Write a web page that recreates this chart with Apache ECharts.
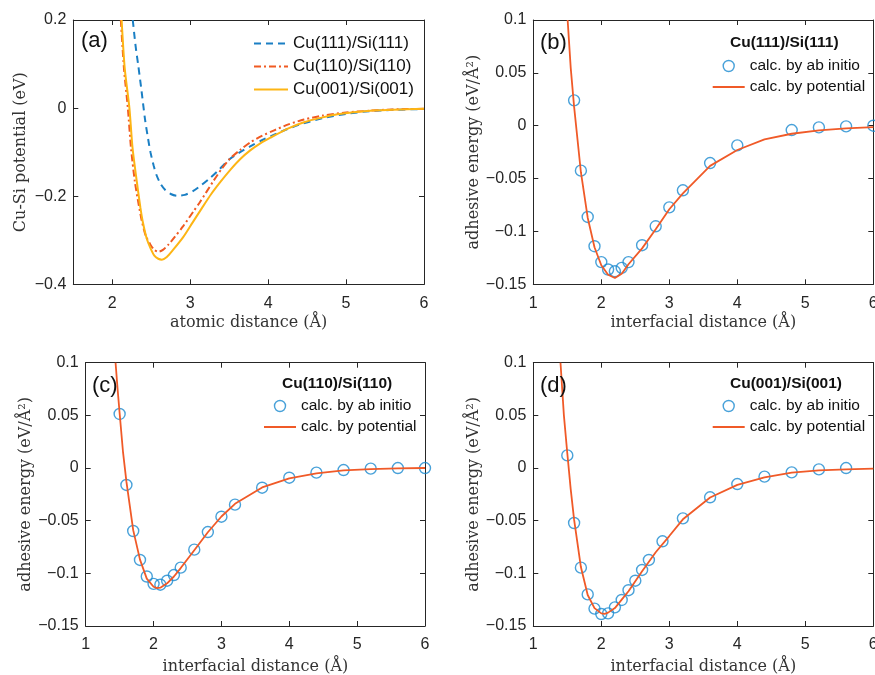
<!DOCTYPE html>
<html>
<head>
<meta charset="utf-8">
<script src="https://cdn.jsdelivr.net/npm/echarts@6/dist/echarts.min.js"></script>
<style>
html,body{margin:0;padding:0;background:#fff;}
#chart{width:875px;height:675px;}
</style>
</head>
<body>
<div id="chart"></div>
<script>
// ---------- Panel (a): Cu-Si potential ----------
const aBlueX = [2.263,2.30,2.335,2.375,2.42,2.46,2.49,2.53,2.57,2.62,2.68,2.75,2.83,2.93,3.04,3.15,3.26,3.38,3.49,3.63,3.77,3.92,4.07,4.24,4.45,4.7,5.0,5.3,5.6,6.0];
const aBlueY = [0.2,0.14,0.095,0.04,-0.025,-0.07,-0.1,-0.13,-0.153,-0.172,-0.186,-0.195,-0.199,-0.197,-0.188,-0.174,-0.158,-0.138,-0.118,-0.101,-0.087,-0.073,-0.061,-0.048,-0.035,-0.023,-0.013,-0.007,-0.004,-0.002];
const aRedX = [2.11,2.15,2.20,2.24,2.29,2.34,2.38,2.43,2.49,2.54,2.59,2.65,2.72,2.80,2.91,3.04,3.13,3.30,3.40,3.51,3.64,3.77,3.92,4.07,4.26,4.46,4.7,5.0,5.3,5.6,6.0];
const aRedY = [0.2,0.09,0.0,-0.09,-0.167,-0.22,-0.257,-0.29,-0.31,-0.322,-0.326,-0.322,-0.31,-0.293,-0.268,-0.235,-0.212,-0.165,-0.139,-0.115,-0.095,-0.078,-0.063,-0.051,-0.037,-0.026,-0.017,-0.010,-0.006,-0.003,-0.0015];
const aOrX = [2.12,2.16,2.22,2.26,2.315,2.36,2.39,2.44,2.49,2.54,2.59,2.636,2.70,2.78,2.91,3.03,3.15,3.27,3.39,3.52,3.64,3.77,3.90,4.03,4.26,4.46,4.70,4.89,5.31,5.6,6.0];
const aOrY = [0.2,0.09,0.0,-0.09,-0.167,-0.225,-0.257,-0.295,-0.318,-0.335,-0.342,-0.344,-0.338,-0.322,-0.293,-0.26,-0.227,-0.195,-0.167,-0.139,-0.116,-0.096,-0.080,-0.067,-0.046,-0.032,-0.021,-0.014,-0.006,-0.004,-0.0016];
const aNames = ['Cu(111)/Si(111)','Cu(110)/Si(110)','Cu(001)/Si(001)'];
const aXTicks = [2,3,4,5,6];
const aYTicks = [-0.4,-0.2,0,0.2];

// ---------- Panel (b): Cu(111)/Si(111) ----------
const bX = [1.6,1.7,1.8,1.9,2.0,2.1,2.2,2.3,2.4,2.6,2.8,3.0,3.2,3.6,4.0,4.8,5.2,5.6,6.0];
const bAb = [0.024,-0.0425,-0.0863,-0.114,-0.129,-0.136,-0.1377,-0.1345,-0.129,-0.113,-0.0951,-0.0772,-0.0611,-0.0353,-0.0186,-0.0041,-0.0016,-0.0006,0.0];
const bLineX = [1.505,1.55,1.6,1.7,1.8,1.9,2.0,2.1,2.2,2.3,2.4,2.6,2.8,3.0,3.2,3.6,4.0,4.4,4.8,5.2,5.6,6.0];
const bLineY = [0.1,0.055,0.018,-0.044,-0.087,-0.115,-0.132,-0.141,-0.144,-0.140,-0.131,-0.116,-0.098,-0.079,-0.064,-0.038,-0.023,-0.013,-0.0076,-0.0044,-0.0025,-0.0013];

// ---------- Panel (c): Cu(110)/Si(110) ----------
const cX = [1.5,1.6,1.7,1.8,1.9,2.0,2.1,2.2,2.3,2.4,2.6,2.8,3.0,3.2,3.6,4.0,4.4,4.8,5.2,5.6,6.0];
const cAb = [0.0513,-0.0161,-0.0598,-0.0873,-0.103,-0.110,-0.1108,-0.107,-0.1016,-0.0946,-0.0775,-0.0608,-0.0462,-0.0348,-0.0187,-0.0092,-0.0044,-0.0019,-0.0006,0.0,0.0];
const cLineX = [1.44,1.47,1.5,1.55,1.6,1.7,1.8,1.9,2.0,2.05,2.1,2.2,2.3,2.4,2.6,2.8,3.0,3.2,3.6,4.0,4.4,4.8,5.2,5.6,6.0];
const cLineY = [0.1,0.075,0.052,0.015,-0.013,-0.059,-0.087,-0.105,-0.1127,-0.114,-0.1136,-0.1095,-0.103,-0.095,-0.078,-0.061,-0.046,-0.034,-0.0184,-0.0098,-0.005,-0.0022,-0.001,-0.0004,0.0];

// ---------- Panel (d): Cu(001)/Si(001) ----------
const dX = [1.5,1.6,1.7,1.8,1.9,2.0,2.1,2.2,2.3,2.4,2.5,2.6,2.7,2.9,3.2,3.6,4.0,4.4,4.8,5.2,5.6];
const dAb = [0.012,-0.0522,-0.0946,-0.120,-0.1335,-0.1386,-0.138,-0.1323,-0.1253,-0.116,-0.107,-0.0968,-0.0873,-0.0696,-0.0478,-0.0278,-0.0152,-0.0082,-0.0041,-0.0013,0.0];
const dLineX = [1.40,1.45,1.5,1.55,1.6,1.7,1.8,1.9,2.0,2.05,2.1,2.2,2.3,2.4,2.6,2.8,3.0,3.2,3.6,4.0,4.4,4.8,5.2,5.6,6.0];
const dLineY = [0.1,0.05,0.014,-0.02,-0.049,-0.094,-0.1206,-0.133,-0.138,-0.1385,-0.1373,-0.133,-0.125,-0.117,-0.098,-0.080,-0.0646,-0.0487,-0.028,-0.016,-0.0089,-0.0044,-0.0022,-0.0013,-0.0006];

const bcdXTicks = [1,2,3,4,5,6];
const bcdYTicks = [-0.15,-0.1,-0.05,0,0.05,0.1];
const panelLabels = ['(a)','(b)','(c)','(d)'];
const bcdHeaders = ['Cu(111)/Si(111)','Cu(110)/Si(110)','Cu(001)/Si(001)'];
const abName = 'calc. by ab initio';
const potName = 'calc. by potential';

// ---------- styling / layout ----------
const AX = '#262626';
const SANS = 'Liberation Sans, Arial, Helvetica, sans-serif';
const SERIF = 'DejaVu Serif, serif';
const BLUE = '#1a7fc4', RED = '#f05a22', YEL = '#fdb515', LINE = '#f05a28', CIRC = '#1a8ad0';
const grids = [
  {left:73.3, top:20, width:350.7, height:264.3},
  {left:533.3, top:20, width:340, height:264.3},
  {left:85.7, top:362.7, width:339.3, height:263.3},
  {left:533.3, top:362.7, width:340, height:263.3}
];
const xRange = [[1.5,6],[1,6],[1,6],[1,6]];
const yRange = [[-0.4,0.2],[-0.15,0.1],[-0.15,0.1],[-0.15,0.1]];
const xTickSets = [aXTicks,bcdXTicks,bcdXTicks,bcdXTicks];
const yTickSets = [aYTicks,bcdYTicks,bcdYTicks,bcdYTicks];
const xNames = ['atomic distance (Å)','interfacial distance (Å)','interfacial distance (Å)','interfacial distance (Å)'];
const yNames = ['Cu-Si potential (eV)','adhesive energy (eV/Å²)','adhesive energy (eV/Å²)','adhesive energy (eV/Å²)'];
const yNameGaps = [44,48,48,48];
const xNameGaps = [31,31,33,33];
const fmt = v => String(v).replace('-', '\u2212');

const xAxis = [], yAxis = [];
for (let g = 0; g < 4; g++) {
  const common = {type:'value', gridIndex:g, splitLine:{show:false},
    axisLine:{show:true, onZero:false, lineStyle:{color:AX, width:1}},
    axisTick:{show:true, inside:true, length:5, lineStyle:{color:AX, width:1}}};
  xAxis.push(Object.assign({}, common, {
    min:xRange[g][0], max:xRange[g][1], position:'bottom',
    axisTick:Object.assign({}, common.axisTick, {customValues:xTickSets[g]}),
    axisLabel:{show:true, customValues:xTickSets[g], formatter:fmt, margin:11, color:AX, fontSize:16, fontFamily:SANS},
    name:xNames[g], nameLocation:'middle', nameGap:xNameGaps[g],
    nameTextStyle:{fontFamily:SERIF, fontSize:16, color:'#333'}
  }));
  xAxis.push(Object.assign({}, common, {
    min:xRange[g][0], max:xRange[g][1], position:'top',
    axisTick:Object.assign({}, common.axisTick, {customValues:xTickSets[g]}),
    axisLabel:{show:false}
  }));
  yAxis.push(Object.assign({}, common, {
    min:yRange[g][0], max:yRange[g][1], position:'left',
    axisTick:Object.assign({}, common.axisTick, {customValues:yTickSets[g]}),
    axisLabel:{show:true, customValues:yTickSets[g], formatter:fmt, margin:7, color:AX, fontSize:16, fontFamily:SANS},
    name:yNames[g], nameLocation:'middle', nameGap:yNameGaps[g],
    nameTextStyle:{fontFamily:SERIF, fontSize:16, color:'#333'}
  }));
  yAxis.push(Object.assign({}, common, {
    min:yRange[g][0], max:yRange[g][1], position:'right',
    axisTick:Object.assign({}, common.axisTick, {customValues:yTickSets[g]}),
    axisLabel:{show:false}
  }));
}

const pairs = (xs, ys) => xs.map((x, i) => [x, ys[i]]);
const series = [
  {name:aNames[0], type:'line', xAxisIndex:0, yAxisIndex:0, data:pairs(aBlueX,aBlueY), showSymbol:false, symbol:'none', smooth:0.25,
   lineStyle:{color:BLUE, width:2, type:[7,5]}, itemStyle:{color:BLUE}},
  {name:aNames[1], type:'line', xAxisIndex:0, yAxisIndex:0, data:pairs(aRedX,aRedY), showSymbol:false, symbol:'none', smooth:0.25,
   lineStyle:{color:RED, width:2, type:[7,3,2,3]}, itemStyle:{color:RED}},
  {name:aNames[2], type:'line', xAxisIndex:0, yAxisIndex:0, data:pairs(aOrX,aOrY), showSymbol:false, symbol:'none', smooth:0.25,
   lineStyle:{color:YEL, width:2}, itemStyle:{color:YEL}}
];
const abSets = [[bX,bAb],[cX,cAb],[dX,dAb]];
const lnSets = [[bLineX,bLineY],[cLineX,cLineY],[dLineX,dLineY]];
for (let k = 0; k < 3; k++) {
  const g = k + 1;
  series.push({name:abName, type:'scatter', xAxisIndex:2*g, yAxisIndex:2*g, data:pairs(abSets[k][0],abSets[k][1]),
    symbol:'circle', symbolSize:11, itemStyle:{color:'rgba(255,255,255,0)', borderColor:CIRC, borderWidth:1.4}, z:2});
  series.push({name:potName, type:'line', xAxisIndex:2*g, yAxisIndex:2*g, data:pairs(lnSets[k][0],lnSets[k][1]),
    showSymbol:false, symbol:'none', lineStyle:{color:LINE, width:1.8}, itemStyle:{color:LINE}, z:3});
}

const titles = [
  {text:panelLabels[0], left:81, top:30},
  {text:panelLabels[1], left:540, top:32},
  {text:panelLabels[2], left:92, top:375},
  {text:panelLabels[3], left:540, top:375}
].map(t => Object.assign(t, {padding:0, textStyle:{fontFamily:SANS, fontSize:22, fontWeight:'normal', color:'#111'}}));
const hdrPos = [[730,35],[282,376],[730,376]];
for (let k = 0; k < 3; k++) {
  titles.push({text:bcdHeaders[k], left:hdrPos[k][0], top:hdrPos[k][1], padding:0,
    textStyle:{fontFamily:SANS, fontSize:15.5, fontWeight:'bold', color:'#111'}});
}

const hideSym = {opacity:0};
const legends = [{
  data:aNames.map(n => ({name:n, itemStyle:hideSym})), left:253, top:35, orient:'vertical', padding:0,
  itemWidth:34, itemHeight:14, itemGap:6, selectedMode:false,
  textStyle:{fontFamily:SANS, fontSize:17, color:'#111'}
}];
const legPos = [[711.7,58],[263,398],[711.7,398]];
for (let k = 0; k < 3; k++) {
  legends.push({
    data:[{name:abName, icon:'circle', itemStyle:{color:'rgba(255,255,255,0)', borderColor:CIRC, borderWidth:1.4}},
          {name:potName, itemStyle:hideSym}],
    left:legPos[k][0], top:legPos[k][1], orient:'vertical', padding:0, itemWidth:32, itemHeight:11, itemGap:5,
    selectedMode:false, textStyle:{fontFamily:SANS, fontSize:15.5, color:'#111'}
  });
}

const chart = echarts.init(document.getElementById('chart'), null, {renderer:'canvas'});
chart.setOption({
  animation:false,
  backgroundColor:'#fff',
  title:titles,
  legend:legends,
  grid:grids.map(g => Object.assign({}, g, {containLabel:false, outerBoundsMode:'none'})),
  xAxis, yAxis, series
});
</script>
</body>
</html>
